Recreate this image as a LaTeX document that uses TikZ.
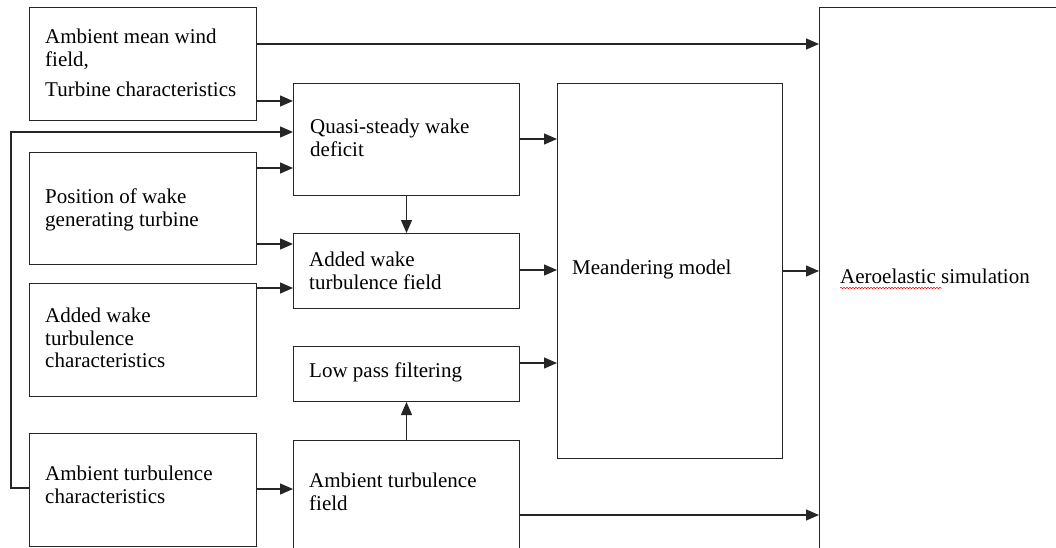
\documentclass[tikz,border=0pt]{standalone}
\usepackage{fontspec}
\setmainfont{Liberation Serif}
\usetikzlibrary{arrows.meta,decorations.pathmorphing}

\tikzset{
  box/.style={draw=black!85, line width=1pt, anchor=north west, inner sep=0pt},
  txt/.style={anchor=north west, align=left, inner sep=0pt,
    font=\fontsize{21}{22.5}\selectfont},
  arr/.style={draw=black!85, line width=1.3pt, -{Triangle[length=13pt,width=11pt]}}
}

\begin{document}
\begin{tikzpicture}[x=1pt,y=-1pt]
			\clip (0,0) rectangle (1056,548);

			% left column
			\node[box, minimum width=227pt, minimum height=113pt] (A) at (29,7) {};
			\node[box, minimum width=227pt, minimum height=112pt] (P) at (29,152) {};
			\node[box, minimum width=227pt, minimum height=113pt] (W) at (29,283) {};
			\node[box, minimum width=227pt, minimum height=113pt] (T) at (29,433) {};

			% middle column
			\node[box, minimum width=226pt, minimum height=112pt] (Q) at (293,83) {};
			\node[box, minimum width=226pt, minimum height=75pt] (AW) at (293,233) {};
			\node[box, minimum width=226pt, minimum height=55pt] (LP) at (293,346) {};
			\node[box, minimum width=226pt, minimum height=140pt] (AF) at (293,440) {};

			% right
			\node[box, minimum width=225pt, minimum height=375pt] (M) at (557,83) {};
			\node[box, minimum width=260pt, minimum height=570pt] (Aero) at (819,7) {};

			\node[txt] (tA) at (45,29) {Ambient mean wind\\field,\\[8pt]Turbine characteristics};
			\node[txt] (tP) at (45,189) {Position of wake\\generating turbine};
			\node[txt] (tW) at (45,308) {Added wake\\turbulence\\characteristics};
			\node[txt] (tT) at (45,466) {Ambient turbulence\\characteristics};
			\node[txt] (tQ) at (310,119) {Quasi-steady wake\\deficit};
			\node[txt] (tAW) at (309,252) {Added wake\\turbulence field};
			\node[txt] (tLP) at (309,363) {Low pass filtering};
			\node[txt] (tAF) at (309,473) {Ambient turbulence\\field};
			\node[txt] (tM) at (572,260) {Meandering model};
			\node[txt] (tAero) at (840,269) {Aeroelastic simulation};

			% spelling mark
			\draw[red, line width=0.5pt, decorate,
			  decoration={snake, amplitude=0.8pt, segment length=3pt}]
			  (840,288) -- (942,288);

			\coordinate (fb) at (11,132);

			\draw[arr] (A.east |- 0,44) -- (Aero.west |- 0,44);
			\draw[arr] (A.east |- 0,101) -- (Q.west |- 0,101);
			\draw[arr] (T.west |- 0,488) -| (fb) -- (Q.west |- fb);
			\draw[arr] (P.east |- 0,168) -- (Q.west |- 0,168);
			\draw[arr] (P.east |- 0,244) -- (AW.west |- 0,244);
			\draw[arr] (W.east |- 0,288) -- (AW.west |- 0,288);
			\draw[arr] (T.east |- 0,489) -- (AF.west |- 0,489);

			\draw[arr] (Q.south) -- (AW.north);
			\draw[arr] (AF.north) -- (LP.south);

			\draw[arr] (Q.east |- 0,139) -- (M.west |- 0,139);
			\draw[arr] (AW.east |- 0,270) -- (M.west |- 0,270);
			\draw[arr] (LP.east |- 0,363) -- (M.west |- 0,363);
			\draw[arr] (M.east |- 0,271) -- (Aero.west |- 0,271);
			\draw[arr] (AF.east |- 0,515) -- (Aero.west |- 0,515);
		\end{tikzpicture}
\end{document}
